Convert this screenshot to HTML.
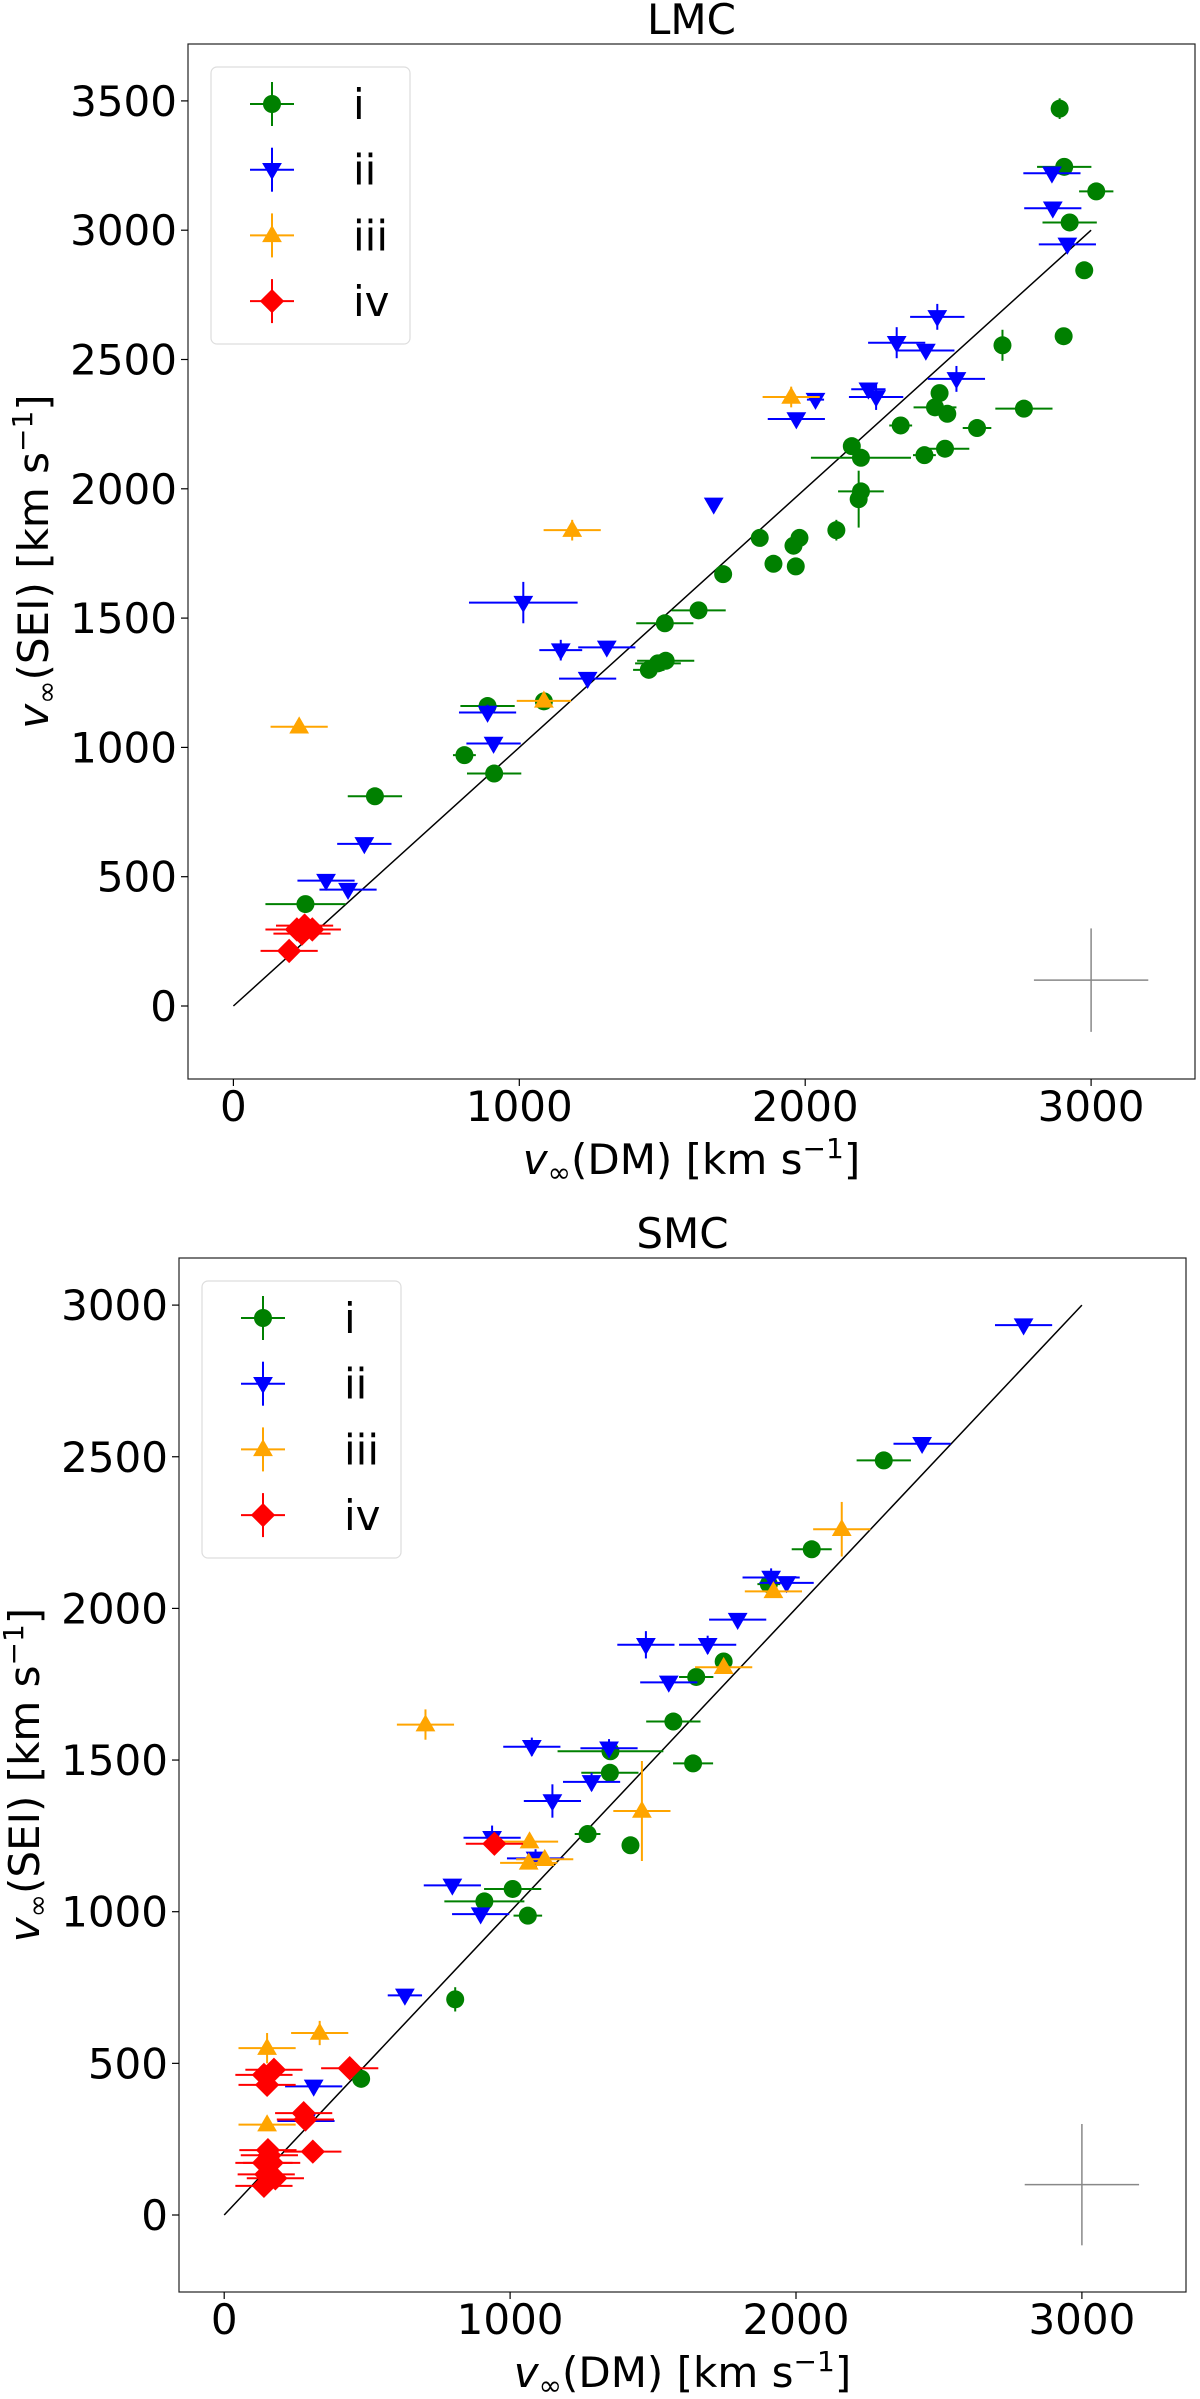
<!DOCTYPE html>
<html><head><meta charset="utf-8"><style>
html,body{margin:0;padding:0;background:#fff;}
svg{display:block;font-family:"DejaVu Sans","Liberation Sans",sans-serif;}
</style></head><body>
<svg id="fig" width="1200" height="2399" viewBox="0 0 1200 2399" xmlns="http://www.w3.org/2000/svg"></svg>
<script>
// ---- LMC data: [x, y, xerr, yerr] ----
const lmcI = [[2890,3470,25,40],[2906,3245,95,20],[3018,3150,60,15],[2925,3030,95,15],[2976,2845,30,15],[2904,2590,15,15],[2690,2555,20,60],[2765,2310,100,30],[2470,2370,15,20],[2454,2315,75,20],[2497,2290,30,20],[2601,2235,50,15],[2334,2245,40,15],[2489,2155,85,15],[2417,2130,40,15],[2163,2165,30,20],[2195,2120,175,20],[2195,1990,80,15],[2187,1960,20,110],[2109,1840,25,40],[1841,1810,20,15],[1980,1810,20,15],[1959,1780,30,15],[1889,1710,20,15],[1967,1700,15,15],[1713,1670,15,15],[1627,1530,95,15],[1509,1480,100,15],[1453,1300,55,15],[1485,1325,80,15],[1512,1335,100,15],[889,1160,95,15],[1086,1178,20,15],[808,970,40,15],[912,899,95,15],[495,811,95,30],[252,394,140,15]];
const lmcII = [[2863,3220,100,20],[2866,3085,100,15],[2917,2945,100,15],[2462,2665,95,50],[2320,2565,100,60],[2422,2535,100,15],[2529,2425,100,50],[2221,2385,60,15],[2248,2355,95,50],[2036,2345,30,15],[1969,2270,100,15],[1680,1940,15,15],[1014,1560,190,80],[1145,1376,75,40],[1306,1387,100,15],[1239,1266,100,15],[889,1135,100,30],[910,1015,95,15],[458,627,95,15],[324,485,100,15],[401,450,100,15]];
const lmcIII = [[230,1080,100,15],[1185,1840,100,40],[1086,1180,95,15],[1951,2355,100,40]];
const lmcIV = [[195,213,100,15],[222,296,110,15],[249,311,100,30],[276,296,100,20],[240,280,100,15]];
// ---- SMC data ----
const smcI = [[2307,2488,95,15],[2055,2195,70,15],[1905,2080,40,15],[1747,1825,20,15],[1651,1774,60,15],[1571,1627,95,15],[1640,1489,70,15],[1351,1529,185,15],[1349,1458,100,15],[1271,1256,45,15],[1421,1219,15,15],[1009,1075,100,15],[910,1034,140,15],[1062,987,50,15],[808,711,15,40],[479,449,30,15]];
const smcII = [[2796,2934,100,15],[2441,2543,100,15],[1913,2102,100,30],[1967,2084,95,15],[1796,1963,100,15],[1691,1880,100,30],[1475,1880,100,45],[1555,1756,100,15],[1346,1539,100,30],[1076,1544,100,30],[1285,1428,100,30],[1148,1365,100,55],[937,1244,100,40],[1089,1176,100,30],[798,1087,100,15],[897,992,100,15],[632,724,60,15],[313,424,100,15],[286,310,100,15]];
const smcIII = [[2160,2261,100,90],[1921,2056,100,15],[1747,1806,100,15],[704,1617,100,50],[1068,1231,100,15],[1065,1161,100,15],[1121,1173,100,15],[1461,1332,100,165],[334,600,100,40],[150,550,100,50],[150,298,100,15]];
const smcIV = [[945,1224,100,15],[439,484,100,15],[174,479,100,15],[139,462,100,15],[150,429,100,15],[278,336,100,30],[284,315,100,15],[310,209,100,15],[153,214,100,15],[166,172,100,15],[147,134,100,15],[139,96,100,15],[158,197,100,15],[179,121,100,15],[139,172,100,15]];
const xTicks = [0,1000,2000,3000];
const lmcYTicks = [0,500,1000,1500,2000,2500,3000,3500];
const smcYTicks = [0,500,1000,1500,2000,2500,3000];
const seriesNames = ['i','ii','iii','iv'];
const seriesColors = ['green','blue','orange','red'];
const seriesShapes = ['circle','tri-down','tri-up','diamond'];

const NS='http://www.w3.org/2000/svg';
const svg=document.getElementById('fig');
function mk(tag,attrs,parent){const e=document.createElementNS(NS,tag);for(const k in attrs)e.setAttribute(k,attrs[k]);(parent||svg).appendChild(e);return e;}

function marker(g,shape,cx,cy,color,s){
  let e;
  if(shape==='circle'){e=mk('circle',{cx:cx,cy:cy,r:s,fill:color},g);}
  else if(shape==='tri-down'){e=mk('polygon',{points:`${cx-s*1.1},${cy-s*0.75} ${cx+s*1.1},${cy-s*0.75} ${cx},${cy+s*1.15}`,fill:color},g);}
  else if(shape==='tri-up'){e=mk('polygon',{points:`${cx-s*1.1},${cy+s*0.75} ${cx+s*1.1},${cy+s*0.75} ${cx},${cy-s*1.15}`,fill:color},g);}
  else {const d=s*1.35;e=mk('polygon',{points:`${cx},${cy-d} ${cx+d},${cy} ${cx},${cy+d} ${cx-d},${cy}`,fill:color},g);}
  return e;
}

function panel(cfg){
  const {name,L,T,R,B,x0px,xPer,y0px,yPer,yTicks,data,title}=cfg;
  const sx=v=>x0px+v*xPer, sy=v=>y0px-v*yPer;
  const g=mk('g',{});
  
  
  const clipId=name+'-clip';
  const cp=mk('clipPath',{id:clipId},g);mk('rect',{x:L,y:T,width:R-L,height:B-T},cp);
  const plot=mk('g',{'clip-path':`url(#${clipId})`},g);
  
  
  // identity line
  const line=mk('line',{x1:sx(0),y1:sy(0),x2:sx(3000),y2:sy(3000),stroke:'#000','stroke-width':1.5},plot);
  
  
  // series
  data.forEach((ser,si)=>{
    const sg=mk('g',{},plot);
    
    
    ser.forEach(p=>{
      const [x,y,xe,ye]=p;
      mk('line',{x1:sx(x-xe),y1:sy(y),x2:sx(x+xe),y2:sy(y),stroke:seriesColors[si],'stroke-width':2},sg);
      mk('line',{x1:sx(x),y1:sy(y-ye),x2:sx(x),y2:sy(y+ye),stroke:seriesColors[si],'stroke-width':2},sg);
    });
    ser.forEach(p=>{
      const m=marker(sg,seriesShapes[si],sx(p[0]),sy(p[1]),seriesColors[si],9);
      
      
    });
  });
  // typical error cross
  const cr=mk('g',{},plot);
  
  
  mk('line',{x1:sx(2800),y1:sy(100),x2:sx(3200),y2:sy(100),stroke:'#888','stroke-width':1.5},cr);
  mk('line',{x1:sx(3000),y1:sy(-100),x2:sx(3000),y2:sy(300),stroke:'#888','stroke-width':1.5},cr);
  // frame
  const fr=mk('rect',{x:L,y:T,width:R-L,height:B-T,fill:'none',stroke:'#222','stroke-width':1.2},g);
  
  
  // x ticks
  xTicks.forEach(t=>{
    mk('line',{x1:sx(t),y1:B,x2:sx(t),y2:B+7,stroke:'#000','stroke-width':1.2},g);
    const tx=mk('text',{x:sx(t),y:B+42,'font-size':42,'text-anchor':'middle',fill:'#000'},g);
    tx.textContent=t;
    
    
  });
  yTicks.forEach(t=>{
    mk('line',{x1:L-7,y1:sy(t),x2:L,y2:sy(t),stroke:'#000','stroke-width':1.2},g);
    const tx=mk('text',{x:L-11,y:sy(t)+15,'font-size':42,'text-anchor':'end',fill:'#000'},g);
    tx.textContent=t;
    
    
  });
  // title
  const ti=mk('text',{x:(L+R)/2,y:T-10,'font-size':42,'text-anchor':'middle',fill:'#000'},g);
  ti.textContent=title;
  
  
  // x label
  const xl=mk('text',{x:(L+R)/2,y:B+95,'font-size':42,'text-anchor':'middle',fill:'#000'},g);
  xl.innerHTML='<tspan font-style="italic">v</tspan><tspan font-size="28" dy="8">∞</tspan><tspan dy="-8">(DM) [km s</tspan><tspan font-size="28" dy="-16">−1</tspan><tspan dy="16">]</tspan>';
  
  
  const yl=mk('text',{x:0,y:0,'font-size':42,'text-anchor':'middle',fill:'#000',transform:`translate(${L-140},${(T+B)/2}) rotate(-90)`},g);
  yl.innerHTML='<tspan font-style="italic">v</tspan><tspan font-size="28" dy="8">∞</tspan><tspan dy="-8">(SEI) [km s</tspan><tspan font-size="28" dy="-16">−1</tspan><tspan dy="16">]</tspan>';
  
  
  // legend
  const lg=mk('g',{},g);
  
  
  mk('rect',{x:L+23,y:T+23,width:199,height:277,rx:6,fill:'#fff','fill-opacity':0.8,stroke:'#ddd','stroke-width':1.2},lg);
  seriesNames.forEach((n,i)=>{
    const cy=T+60+i*65.7, cx=L+84;
    const en=mk('g',{},lg);
    
    
    mk('line',{x1:cx-22,y1:cy,x2:cx+22,y2:cy,stroke:seriesColors[i],'stroke-width':2},en);
    mk('line',{x1:cx,y1:cy-22,x2:cx,y2:cy+22,stroke:seriesColors[i],'stroke-width':2},en);
    marker(en,seriesShapes[i],cx,cy,seriesColors[i],9);
    const tx=mk('text',{x:L+165,y:cy+15,'font-size':42,fill:'#000'},en);
    tx.textContent=n;
  });
}

panel({name:'lmc',L:188,T:44,R:1195,B:1079,x0px:233.4,xPer:0.2859,y0px:1006,yPer:0.2586,yTicks:lmcYTicks,data:[lmcI,lmcII,lmcIII,lmcIV],title:'LMC'});
panel({name:'smc',L:179,T:1258,R:1186,B:2292,x0px:224.2,xPer:0.2859,y0px:2215,yPer:0.3033,yTicks:smcYTicks,data:[smcI,smcII,smcIII,smcIV],title:'SMC'});
</script>
</body></html>
